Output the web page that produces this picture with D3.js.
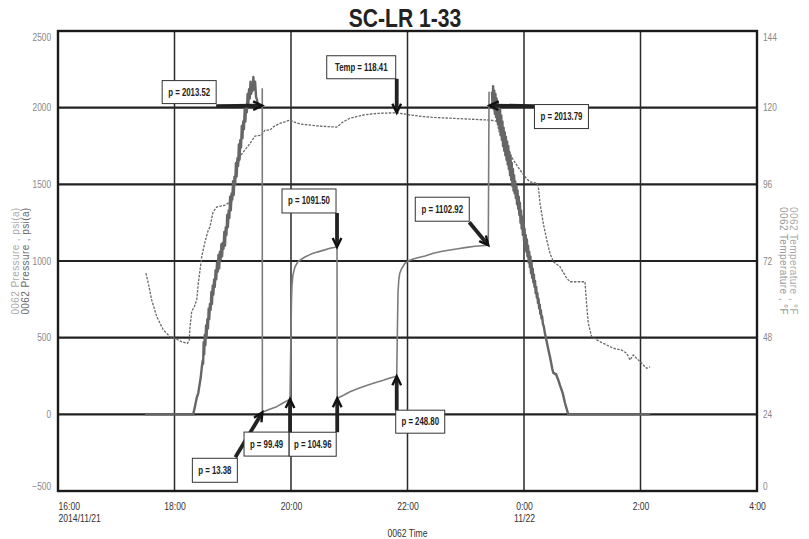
<!DOCTYPE html>
<html><head><meta charset="utf-8">
<script src="https://cdn.jsdelivr.net/npm/d3@7"></script>
<style>
body{margin:0;background:#fff;}
svg{display:block;}
text{font-family:"Liberation Sans",Arial,sans-serif;}
</style></head>
<body>
<svg id="chart" width="809" height="539"></svg>
<script>
// ---------- data ----------
const title = "SC-LR 1-33";
const startTime = "2014-11-21T16:00:00";          // minutes below are measured from this instant
const timeTickMinutes = [0, 120, 240, 360, 480, 600, 720];
const timeTickLabels = ["16:00", "18:00", "20:00", "22:00", "0:00", "2:00", "4:00"];
const timeDateLabels = ["2014/11/21", "", "", "", "11/22", "", ""];
const pressureTicks = [-500, 0, 500, 1000, 1500, 2000, 2500];
const temperatureTicks = [0, 24, 48, 72, 96, 120, 144];
const pressureDomain = [-500, 2500];
const temperatureDomain = [0, 144];
const timeDomainMinutes = [0, 720];

// gauge pressure (jagged), psi(a) : [minutes, psi]
const pressureGaugeRise = [
  [89.5,0],[139.3,0],[141,50],[143,110],[144.5,139],[146,200],[147,240],[148,300],[149,350],[149.5,330],
  [150.0,470],[150.6,390],[151.2,520],[151.8,450],[152.5,580],[153.0,500],[153.8,620],[154.5,560],[155.2,690],[155.8,620],
  [156.5,720],[157.2,680],[158.0,800],[158.6,720],[159.4,840],[160.0,780],[160.8,880],[161.5,830],[162.3,940],[163.0,880],
  [163.8,990],[164.5,930],[165.3,1040],[166.0,950],[166.8,1060],[167.5,1010],[168.3,1110],[169.0,1030],[169.8,1120],[170.5,1080],
  [171.3,1190],[172.0,1100],[172.8,1220],[173.5,1170],[174.3,1300],[175.0,1220],[175.8,1330],[176.5,1280],[177.3,1420],[178.0,1330],
  [178.8,1440],[179.5,1400],[180.3,1520],[181.0,1430],[181.8,1550],[182.5,1500],[183.3,1640],[184.0,1550],[184.8,1670],[185.5,1620],
  [186.3,1760],[187.0,1660],[187.8,1790],[188.5,1740],[189.3,1880],[190.0,1800],[190.8,1910],[191.5,1860],[192.3,1990],[193.0,1910],
  [193.8,2020],[194.5,1970],[195.3,2090],[196.0,2010],[196.8,2120],[197.5,2060],[198.3,2170],[199.0,2090],[199.8,2150],[200.5,2110],
  [201.2,2200],[202.0,2120],[203.0,2170],[204.0,2070],[205.0,2050],[206.0,2013]
];
const pressureGaugeFall = [
  [447.0,2104],[447.6,2010],[448.2,2140],[448.8,1990],[449.4,2110],[450.0,1960],[450.6,2090],[451.2,1940],[451.8,2060],[452.4,1910],
  [453.0,2040],[453.6,1890],[454.2,2010],[454.8,1860],[455.4,1990],[456.0,1830],[456.6,1950],[457.2,1790],[457.8,1910],[458.4,1750],
  [459.0,1870],[459.6,1720],[460.2,1840],[460.8,1690],[461.4,1810],[462.0,1660],[462.6,1780],[463.2,1630],[463.8,1750],[464.4,1600],
  [465.0,1710],[465.6,1560],[466.2,1680],[466.8,1530],[467.4,1640],[468.0,1490],[468.6,1600],[469.2,1460],[469.8,1560],[470.4,1440],
  [471.0,1520],[471.6,1410],[472.2,1490],[472.8,1370],[473.4,1460],[474.0,1340],[474.6,1420],[475.2,1300],[475.8,1380],[476.4,1250],
  [477.0,1330],[477.6,1210],[478.2,1290],[478.8,1170],[479.4,1250],[480.0,1130],[480.6,1210],[481.2,1100],[481.8,1170],[482.4,1060],
  [483.0,1140],[483.6,1030],[484.2,1100],[484.8,990],[485.4,1060],[486.0,960],[486.6,1030],[487.2,920],[487.8,990],[488.4,890],
  [489.0,950],[489.6,860],[490.2,910],[490.8,830],[491.4,870],[492.0,790],[492.6,830],[493.2,760],[493.8,790],[494.4,725],
  [495.0,755],[495.6,690],[496.2,715],[496.8,655],[497.4,680],[498.0,625],[498.6,640],[499.5,590],[500.5,570],[501.5,530],
  [502.6,498],[504.0,455],[505.5,410],[506.8,374],[508.0,335],[509.0,300],[510.2,269],[511.0,268],[512.0,262],[513.0,263],
  [514.0,245],[515.3,224],[517.0,190],[518.8,158],[520.0,135],[522.2,74],[525.6,0],[609.8,0]
];
// second pressure trace (build-ups) : [minutes, psi]
const pressureBuildup = [
  [210.4,2127],[210.5,13.38],[217.3,31],[225.3,50],[231.8,74],[239.0,99.49],[240.0,550],[240.5,745],[241.0,843],
  [242.0,908],[244.0,960],[247.0,994],[251.1,1013],[254.4,1026],[260.6,1045],[266.8,1058],[274.0,1071],[280.2,1083],
  [287.4,1091.5],[287.6,104.96],[294.6,126],[300.8,147],[309.0,168],[317.9,188],[326.5,206],[335.1,222],[341.9,237],
  [348.9,248.8],[349.6,550],[350.2,791],[351.0,876],[352.0,920],[354.3,954],[357.4,985],[361.5,1003],[366.0,1013],
  [369.5,1019],[378.0,1032],[386.6,1050],[394.5,1062],[403.8,1072],[412.0,1080],[421.0,1089],[429.5,1096],
  [443.2,1102.92],[444.0,2104]
];
// temperature, °F : [minutes, degF]
const temperature = [
  [90.6,68.2],[93.0,65.0],[96.5,59.8],[101.7,54.6],[108.5,50.4],[115.4,48.3],[120.5,47.8],[127.4,46.7],[133.4,46.2],
  [135.2,47.3],[136.0,51.4],[137.7,56.1],[140.4,57.7],[142.9,59.8],[144.5,65.0],[146.3,69.2],[148.0,73.3],[151.4,78.0],
  [154.8,81.7],[156.6,82.7],[159.7,87.3],[163.5,88.9],[172.0,89.5],[175.4,90.1],[178.9,90.6],[184.1,100.5],[187.5,104.7],
  [192.6,106.8],[197.8,108.8],[202.9,111.1],[209.8,111.4],[213.2,113.0],[218.4,113.0],[221.8,114.0],[228.7,115.1],
  [239.0,116.1],[242.4,115.6],[249.3,114.9],[266.5,114.3],[287.1,113.9],[288.7,114.3],[293.9,115.6],[300.8,116.7],
  [314.5,117.7],[328.3,118.2],[348.9,118.41],[362.6,117.7],[376.3,117.2],[390.1,116.9],[403.8,116.7],[424.4,116.4],
  [445.0,116.1],[451.9,115.8],[455.3,111.4],[462.2,107.8],[469.0,103.6],[475.9,100.5],[482.8,97.7],[486.2,96.8],
  [493.1,96.3],[494.7,95.5],[496.5,90.1],[499.9,83.8],[503.4,78.6],[506.8,74.4],[510.2,71.8],[517.1,70.2],[524.0,66.6],
  [527.4,65.5],[542.8,65.5],[544.4,58.8],[546.2,52.5],[549.7,48.3],[554.9,47.3],[561.7,46.2],[572.0,44.7],[580.6,44.1],
  [585.8,43.1],[589.2,41.0],[592.6,42.6],[596.1,41.5],[599.5,40.5],[606.4,38.4],[609.8,38.9]
];
// annotations : label, minutes, value, axis
const annotationLabels = ["p = 2013.52","Temp = 118.41","p = 2013.79","p = 1091.50","p = 1102.92","p = 13.38","p = 99.49","p = 104.96","p = 248.80"];
const annotationMinutes = [210.3, 348.9, 444.4, 287.4, 443.2, 210.5, 239.0, 287.6, 348.9];
const annotationValues = [2013.52, 118.41, 2013.79, 1091.50, 1102.92, 13.38, 99.49, 104.96, 248.80];
const annotationAxis = ["p","t","p","p","p","p","p","p","p"];

// ---------- layout ----------
const M = {left:58, right:757, top:31, bottom:491};
// box [dx, dy, w, h] relative to the target point; arrow start [dx, dy] relative to the target point
const annotationLayout = [
  {box:[-100,-25,54,23], from:[-46,0.5]},
  {box:[-70,-57,69,23], from:[0,-34]},
  {box:[45,-1,54,24], from:[45,0.5]},
  {box:[-55,-58,54,24], from:[0,-34]},
  {box:[-73,-48,54,24], from:[-19,-23]},
  {box:[-70,46,45,24], from:[-27,45]},
  {box:[-46,33,45,24], from:[0,33]},
  {box:[-48,34,47,24], from:[0,34]},
  {box:[-1,34,49,23], from:[0,34]}
];

function condense(sel, f) {
  sel.each(function () {
    const w = this.getComputedTextLength();
    if (w > 0) { this.setAttribute("textLength", w * f); this.setAttribute("lengthAdjust", "spacingAndGlyphs"); }
  });
}

const svg = d3.select("#chart");
const t0 = new Date(startTime).getTime();
const tm = m => new Date(t0 + m * 60000);

const x = d3.scaleTime().domain(timeDomainMinutes.map(tm)).range([M.left, M.right]);
const yP = d3.scaleLinear().domain(pressureDomain).range([M.bottom, M.top]);
const yT = d3.scaleLinear().domain(temperatureDomain).range([M.bottom, M.top]);

// gridlines
const grid = svg.append("g");
grid.selectAll("line.h").data(pressureTicks.slice(1, -1)).join("line")
  .attr("x1", M.left).attr("x2", M.right).attr("y1", d => yP(d)).attr("y2", d => yP(d))
  .attr("stroke", "#222").attr("stroke-width", 2.2);
grid.selectAll("line.v").data(timeTickMinutes.slice(1, -1)).join("line")
  .attr("y1", M.top).attr("y2", M.bottom).attr("x1", d => x(tm(d))).attr("x2", d => x(tm(d)))
  .attr("stroke", "#2a2a2a").attr("stroke-width", 1.5);

// lines
const lineP = d3.line().x(d => x(tm(d[0]))).y(d => yP(d[1]));
const lineT = d3.line().x(d => x(tm(d[0]))).y(d => yT(d[1]));
const plot = svg.append("g");
plot.append("path").datum(temperature).attr("d", lineT).attr("fill", "none")
  .attr("stroke", "#6a6a6a").attr("stroke-width", 1.3).attr("stroke-dasharray", "2.5,1.3");
plot.append("path").datum(pressureBuildup).attr("d", lineP).attr("fill", "none")
  .attr("stroke", "#7c7c7c").attr("stroke-width", 1.6).attr("stroke-linejoin", "round");
[pressureGaugeRise, pressureGaugeFall].forEach(s =>
  plot.append("path").datum(s).attr("d", lineP).attr("fill", "none")
    .attr("stroke", "#666").attr("stroke-width", 2.4).attr("stroke-linejoin", "round"));

// border
svg.append("rect").attr("x", M.left).attr("y", M.top).attr("width", M.right - M.left).attr("height", M.bottom - M.top)
  .attr("fill", "none").attr("stroke", "#1a1a1a").attr("stroke-width", 2.4);

// axes
const axL = svg.append("g").attr("transform", `translate(${M.left},0)`)
  .call(d3.axisLeft(yP).tickValues(pressureTicks).tickFormat(d3.format("d")).tickSize(0).tickPadding(7));
const axR = svg.append("g").attr("transform", `translate(${M.right},0)`)
  .call(d3.axisRight(yT).tickValues(temperatureTicks).tickFormat(d3.format("d")).tickSize(0).tickPadding(6));
[axL, axR].forEach(a => {
  a.attr("font-family", null);
  a.select(".domain").remove();
  a.selectAll("text").attr("font-size", 10).attr("fill", "#888")
    .attr("dy", (d, i, n) => i === n.length - 1 ? "0.95em" : (i === 0 ? "-0.2em" : "0.32em"));
  condense(a.selectAll("text"), 0.83);
});
const axB = svg.append("g").attr("transform", `translate(0,${M.bottom})`)
  .call(d3.axisBottom(x).tickValues(timeTickMinutes.map(tm)).tickFormat((d, i) => timeTickLabels[i]).tickSize(0).tickPadding(12));
axB.attr("font-family", null);
axB.select(".domain").remove();
axB.selectAll("text").attr("font-size", 10).attr("fill", "#333")
  .attr("text-anchor", (d, i) => i === 0 ? "start" : "middle");
axB.selectAll(".tick").append("text").attr("font-size", 10).attr("fill", "#333")
  .attr("y", 24).attr("dy", "0.71em")
  .attr("text-anchor", (d, i) => i === 0 ? "start" : "middle")
  .text((d, i) => timeDateLabels[i]);
condense(axB.selectAll("text"), 0.86);

const tl = svg.append("text").attr("x", (M.left + M.right) / 2).attr("y", 537)
  .attr("text-anchor", "middle").attr("font-size", 10).attr("fill", "#333").text("0062 Time");
condense(tl, 0.86);

// axis titles
const cy = (M.top + M.bottom) / 2;
svg.append("text").attr("transform", `translate(19,${cy}) rotate(-90)`).attr("text-anchor", "middle")
  .attr("font-size", 10).attr("fill", "#aaa").attr("letter-spacing", 0.4).text("0062 Pressure , psi(a)");
svg.append("text").attr("transform", `translate(29,${cy}) rotate(-90)`).attr("text-anchor", "middle")
  .attr("font-size", 10).attr("fill", "#666").attr("letter-spacing", 0.4).text("0062 Pressure , psi(a)");
svg.append("text").attr("transform", `translate(780,${cy}) rotate(90)`).attr("text-anchor", "middle")
  .attr("font-size", 10).attr("fill", "#999").attr("letter-spacing", 0.4).text("0062 Temperature , °F");
svg.append("text").attr("transform", `translate(790,${cy}) rotate(90)`).attr("text-anchor", "middle")
  .attr("font-size", 10).attr("fill", "#aaa").attr("letter-spacing", 0.4).text("0062 Temperature , °F");

// title
const tt = svg.append("text").attr("x", 405).attr("y", 27).attr("text-anchor", "middle")
  .attr("font-size", 26).attr("font-weight", "bold").attr("fill", "#222").text(title);
condense(tt, 0.81);

// annotations
const ann = svg.append("g");
annotationLabels.forEach((lab, i) => {
  const tx = x(tm(annotationMinutes[i]));
  const ty = annotationAxis[i] === "p" ? yP(annotationValues[i]) : yT(annotationValues[i]);
  const L = annotationLayout[i];
  const sx = tx + L.from[0], sy = ty + L.from[1];
  const ang = Math.atan2(ty - sy, tx - sx);
  const hl = 10, ha = 0.45;
  ann.append("line").attr("x1", sx).attr("y1", sy)
    .attr("x2", tx - Math.cos(ang) * 2).attr("y2", ty - Math.sin(ang) * 2)
    .attr("stroke", "#222").attr("stroke-width", 3.8);
  ann.append("path")
    .attr("d", `M${tx - hl * Math.cos(ang - ha)},${ty - hl * Math.sin(ang - ha)}L${tx},${ty}L${tx - hl * Math.cos(ang + ha)},${ty - hl * Math.sin(ang + ha)}`)
    .attr("fill", "none").attr("stroke", "#111").attr("stroke-width", 2.4);
  const bx = tx + L.box[0], by = ty + L.box[1];
  ann.append("rect").attr("x", bx).attr("y", by).attr("width", L.box[2]).attr("height", L.box[3])
    .attr("fill", "#fff").attr("stroke", "#333").attr("stroke-width", 1);
  const t = ann.append("text").attr("x", bx + L.box[2] / 2).attr("y", by + L.box[3] / 2)
    .attr("dy", "0.35em").attr("text-anchor", "middle").attr("font-size", 10).attr("font-weight", "bold")
    .attr("fill", "#222").text(lab);
  condense(t, 0.78);
});
</script>
</body></html>
